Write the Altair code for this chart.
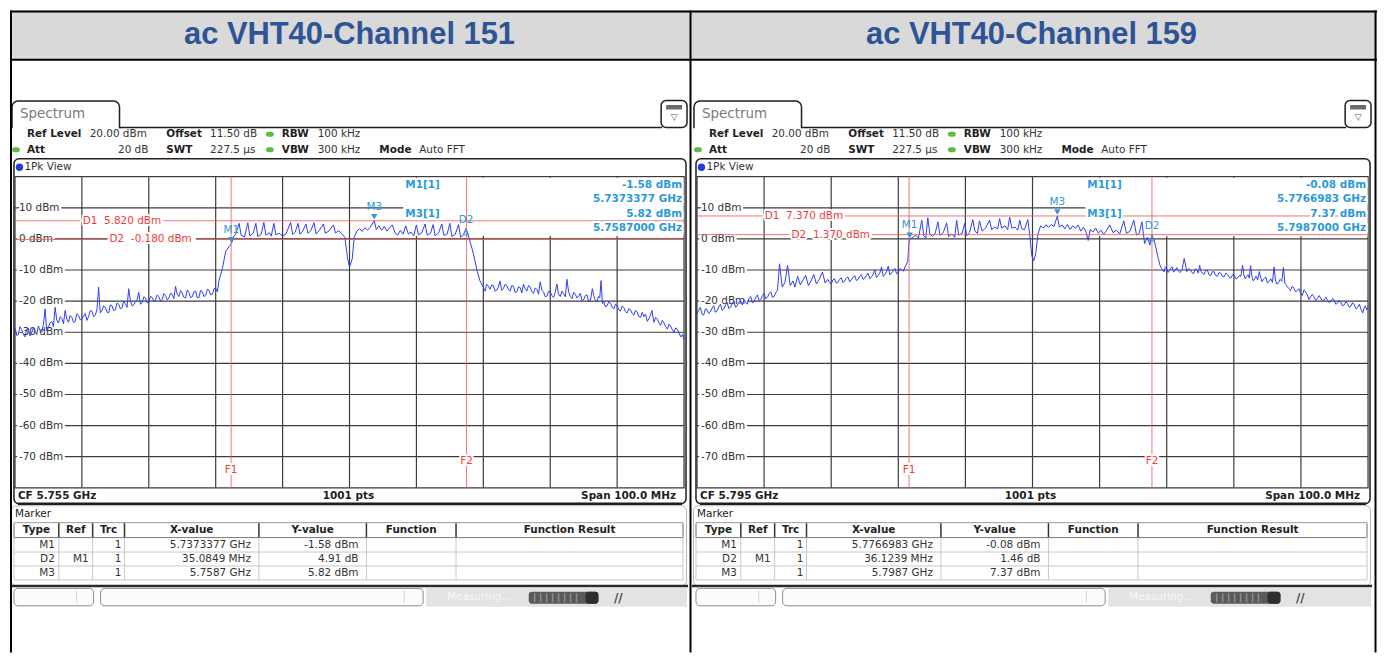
import altair as alt
import pandas as pd

# ---------------- data ----------------
titles = ["ac VHT40-Channel 151", "ac VHT40-Channel 159"]
center_ghz = [5.755, 5.795]
span_mhz = 100.0
n_div = 10
y_min, y_max = -80, 20
grid_dbm = [10, 0, -10, -20, -30, -40, -50, -60, -70]
grid_labels = ["10 dBm", "0 dBm", "-10 dBm", "-20 dBm", "-30 dBm",
               "-40 dBm", "-50 dBm", "-60 dBm", "-70 dBm"]

# trace: (offset from start frequency in MHz, level in dBm)
trace1 = [
    (0, -28.5), (0.5, -30.8), (1, -29.2), (1.5, -31.5), (2, -28.8), (2.5, -30.2), (3, -29.5),
    (3.5, -28.0), (4, -30.0), (4.5, -22.5), (5, -28.5), (5.5, -26.5), (6, -22.0), (6.5, -27.0),
    (7, -25.5), (7.5, -23.0), (8, -26.8), (8.5, -25.2), (9, -26.5), (9.5, -24.5), (10, -25.8),
    (10.5, -24.0), (11, -25.0), (11.5, -23.2), (12, -24.5), (12.5, -15.5), (13, -23.0),
    (13.5, -22.0), (14, -23.8), (14.5, -21.5), (15, -22.8), (15.5, -21.0), (16, -22.2),
    (16.5, -20.8), (17, -16.0), (17.5, -21.5), (18, -20.2), (18.5, -17.2), (19, -20.5),
    (19.5, -19.0), (20, -20.2), (20.5, -18.8), (21, -19.8), (21.5, -18.5), (22, -19.5),
    (22.5, -18.2), (23, -19.0), (23.5, -17.8), (24, -15.3), (24.5, -18.5), (25, -17.5),
    (25.5, -19.0), (26, -17.2), (26.5, -18.6), (27, -16.8), (27.5, -18.8), (28, -17.0),
    (28.5, -18.2), (29, -16.5), (29.5, -17.8), (30, -15.8), (30.5, -13.4), (31, -9.5),
    (31.5, -4.0), (32, -2.5), (32.34, -1.58),
    (32.7, 0.8), (33.0, 1.5), (33.5, 5.0), (33.8, 1.2), (34.3, 0.6), (34.8, 5.2), (35.1, 1.0),
    (35.6, 1.8), (36.0, 5.0), (36.3, 0.8), (36.8, 1.5), (37.2, 5.3), (37.5, 1.2), (38.0, 2.0),
    (38.3, 0.9), (38.7, 5.0), (39.0, 1.3), (39.5, 1.8), (40.0, 0.9), (40.5, 1.6), (41.2, 5.3),
    (41.5, 1.4), (41.9, 2.2), (42.3, 5.0), (42.6, 1.5), (43.0, 2.5), (43.5, 4.8), (43.8, 1.8),
    (44.2, 2.6), (44.7, 5.2), (45.0, 1.6), (45.5, 2.8), (46.1, 4.8), (46.4, 1.8), (46.9, 2.5),
    (47.6, 4.5), (47.9, 1.9), (48.4, 2.6), (48.9, 1.5), (49.3, 0.5), (49.7, -6.0), (50.0, -9.0),
    (50.4, -6.5), (50.7, 0.5), (51.1, 2.5), (51.5, 3.3), (51.9, 2.4), (52.3, 3.6), (52.7, 2.8),
    (53.1, 3.8), (53.7, 5.82), (54.0, 3.0), (54.4, 4.2), (54.8, 2.8), (55.2, 4.0), (55.6, 2.5),
    (56.0, 3.6), (56.4, 4.5), (56.8, 2.0), (57.2, 1.2), (57.6, 2.8), (58.0, 1.5), (58.4, 4.2),
    (58.8, 1.6), (59.2, 2.2), (59.6, 1.0), (60.0, 4.5), (60.3, 1.3), (60.8, 2.0), (61.3, 4.8),
    (61.6, 1.2), (62.1, 1.8), (62.5, 4.6), (62.8, 1.0), (63.3, 1.9), (63.8, 4.8), (64.1, 1.1),
    (64.6, 1.6), (65.0, 5.0), (65.3, 0.8), (65.8, 1.5), (66.3, 4.6), (66.6, 0.5), (67.0, 1.2),
    (67.42, 3.33),
    (67.9, 0.0), (68.3, -3.0), (68.7, -6.5), (69.1, -10.5), (69.5, -13.5), (70.0, -15.5),
    (70.5, -14.6), (71.0, -16.2), (71.5, -15.0), (72.0, -16.5), (72.5, -13.5), (73.0, -16.0),
    (73.5, -15.0), (74.0, -16.8), (74.5, -15.2), (75.0, -17.0), (75.5, -15.6), (76.0, -14.5),
    (76.5, -16.8), (77.0, -15.4), (77.5, -17.5), (78.0, -16.2), (78.5, -13.8), (79.0, -17.0),
    (79.5, -18.4), (80.0, -17.0), (80.5, -18.8), (81.0, -14.5), (81.5, -18.5), (82.0, -17.6),
    (82.5, -13.0), (83.0, -18.5), (83.5, -17.2), (84.0, -19.0), (84.5, -17.5), (85.0, -19.5),
    (85.5, -18.0), (86.0, -19.8), (86.3, -16.0), (86.7, -19.5), (87.2, -18.5), (87.6, -13.4),
    (88.0, -20.2), (88.5, -21.5), (89.0, -20.6), (89.5, -22.5), (90.0, -21.5), (90.5, -23.2),
    (91.0, -22.0), (91.5, -23.8), (92.0, -22.8), (92.5, -24.5), (93.0, -23.5), (93.5, -25.2),
    (94.0, -25.0), (94.5, -26.5), (95.0, -24.5), (95.2, -23.0), (95.5, -26.8), (96.0, -25.8),
    (96.5, -27.8), (97.0, -27.0), (97.5, -29.0), (98.0, -28.0), (98.5, -30.0), (99.0, -29.0),
    (99.5, -31.5), (100.0, -32.5),
]
# further readings of the same noisy trace (sorted together with the list above)
trace1_b = [
    (0.25, -31.0), (0.75, -28.2), (1.25, -30.6), (1.75, -29.0), (2.25, -31.2), (2.75, -28.6),
    (3.25, -30.8), (3.75, -29.4), (4.25, -27.5), (4.75, -29.6), (5.25, -27.0), (5.75, -28.2),
    (6.25, -26.2), (6.75, -25.0), (7.25, -27.2), (7.75, -25.8), (8.25, -24.6), (8.75, -26.8),
    (9.25, -24.0), (9.75, -26.0), (10.25, -24.8), (10.75, -26.2), (11.25, -23.0), (11.75, -25.0),
    (12.25, -22.8), (12.75, -23.8), (13.25, -21.5), (13.75, -23.5), (14.25, -21.2), (14.75, -23.0),
    (15.25, -20.6), (15.75, -22.5), (16.25, -20.0), (16.75, -22.0), (17.25, -19.8), (17.75, -21.2),
    (18.25, -19.5), (18.75, -21.0), (19.25, -18.6), (19.75, -20.6), (20.25, -18.5), (20.75, -20.0),
    (21.25, -18.0), (21.75, -20.0), (22.25, -17.6), (22.75, -19.6), (23.25, -17.5), (23.75, -19.2),
    (24.25, -17.8), (24.75, -16.6), (25.25, -18.8), (25.75, -16.4), (26.25, -18.9), (26.75, -17.0),
    (27.25, -19.0), (27.75, -16.5), (28.25, -18.5), (28.75, -16.2), (29.25, -18.0), (29.75, -16.0),
    (30.25, -17.0),
    (70.25, -16.8), (70.75, -15.2), (71.25, -14.8), (71.75, -16.8), (72.25, -15.5), (72.75, -16.5),
    (73.25, -14.6), (73.75, -16.2), (74.25, -15.0), (74.75, -17.2), (75.25, -15.4), (75.75, -17.4),
    (76.25, -16.0), (76.75, -15.0), (77.25, -17.0), (77.75, -15.8), (78.25, -17.8), (78.75, -16.5),
    (79.25, -18.6), (79.75, -16.8), (80.25, -18.2), (80.75, -17.2), (81.25, -17.8), (81.75, -16.8),
    (82.25, -18.6), (82.75, -17.0), (83.25, -19.2), (83.75, -17.8), (84.25, -18.4), (84.75, -19.8),
    (85.25, -18.2), (85.75, -20.2), (86.5, -18.2), (87.0, -20.2), (87.4, -19.0), (87.8, -20.8),
    (88.25, -21.8), (88.75, -20.2), (89.25, -22.0), (89.75, -21.0), (90.25, -22.8), (90.75, -21.6),
    (91.25, -23.4), (91.75, -22.4), (92.25, -24.0), (92.75, -23.0), (93.25, -25.0), (93.75, -23.6),
    (94.25, -24.2), (94.75, -25.6), (95.75, -25.2), (96.25, -27.0), (96.75, -26.2), (97.25, -28.2),
    (97.75, -27.4), (98.25, -29.2), (98.75, -28.6), (99.25, -30.2), (99.75, -30.8),
]

trace2 = [
    (0, -24.0), (0.5, -22.0), (1, -24.5), (1.5, -22.8), (2, -23.5), (2.5, -21.5), (3, -23.2),
    (3.5, -21.0), (4, -22.5), (4.5, -20.5), (5, -22.0), (5.5, -20.0), (6, -21.5), (6.5, -19.8),
    (7, -19.5), (7.5, -21.0), (8, -18.5), (8.5, -20.2), (9, -18.0), (9.5, -19.5), (10, -17.5),
    (10.5, -18.8), (11, -17.0), (11.5, -18.5), (12, -16.5),
    (12.3, -8.0), (12.7, -15.5), (13.1, -14.0), (13.5, -8.5), (13.9, -15.0), (14.3, -13.5),
    (14.6, -15.5), (15.0, -12.0), (15.4, -14.8), (15.8, -13.2), (16.2, -11.7), (16.6, -15.0),
    (17.0, -13.5), (17.4, -11.4), (17.8, -14.5), (18.2, -13.0), (18.7, -10.7), (19.1, -14.2),
    (19.5, -13.0), (20.0, -14.5), (20.5, -12.8), (21.0, -14.0), (21.5, -12.5), (22.0, -13.6),
    (22.5, -12.2), (23.0, -13.2), (23.5, -11.8), (24.0, -13.0), (24.5, -11.5), (25.0, -12.6),
    (25.5, -11.0), (26.0, -12.2), (26.5, -10.0), (27.0, -11.8), (27.5, -9.0), (28.0, -11.5),
    (28.5, -8.8), (29.0, -11.0), (29.5, -9.5), (30.0, -10.8), (30.5, -9.8), (31.0, -9.0),
    (31.4, -7.3), (31.6, -1.0), (31.7, -0.08),
    (32.2, 0.5), (32.6, 1.2), (33.0, 0.3), (33.5, 6.0), (33.8, 1.0), (34.1, 0.2), (34.4, 6.8),
    (34.7, 1.5), (35.1, 0.8), (35.5, 1.8), (35.9, 5.5), (36.2, 1.2), (36.7, 2.0), (37.2, 5.2),
    (37.5, 0.8), (38.0, 1.6), (38.4, 0.5), (38.7, 6.0), (39.0, 1.2), (39.5, 1.8), (39.9, 5.0),
    (40.2, 1.0), (40.6, 2.0), (41.1, 6.2), (41.4, 2.5), (41.8, 1.8), (42.1, 5.8), (42.5, 2.5),
    (43.0, 3.5), (43.6, 6.0), (43.9, 3.0), (44.4, 3.8), (44.8, 3.2), (45.1, 6.5), (45.4, 3.5),
    (45.9, 4.2), (46.3, 3.0), (46.6, 7.0), (46.9, 3.5), (47.4, 3.8), (47.8, 2.8), (48.1, 6.0),
    (48.4, 3.2), (48.8, 3.0), (49.3, 6.2), (49.6, 1.0), (49.9, -5.5), (50.2, -7.0), (50.5, -4.5),
    (50.8, 1.5), (51.2, 4.2), (51.6, 3.5), (52.0, 4.5), (52.4, 3.8), (52.8, 4.6), (53.2, 4.0),
    (53.7, 7.37), (54.0, 3.8), (54.4, 4.5), (54.8, 3.2), (55.2, 4.6), (55.6, 3.0), (56.0, 4.2),
    (56.4, 3.4), (56.8, 4.5), (57.2, 2.5), (57.6, 3.8), (58.0, 2.0), (58.3, -0.5), (58.6, 3.0),
    (59.0, 2.2), (59.4, 3.5), (59.8, 1.8), (60.2, 2.8), (60.6, 1.5), (61.0, 2.5), (61.5, 4.5),
    (62.0, 2.0), (62.5, 2.8), (63.0, 1.6), (63.6, 5.8), (64.0, 1.8), (64.5, 2.4), (65.1, 6.0),
    (65.5, 1.2), (65.9, 1.8), (66.3, 5.5), (66.7, -1.5), (67.1, 0.5), (67.5, -2.0), (67.8, 1.38),
    (68.2, -1.0), (68.6, -5.0), (69.0, -8.5), (69.4, -10.0), (69.8, -9.0), (70.2, -10.8),
    (70.6, -9.4), (71.0, -10.6), (71.5, -9.2), (72.0, -10.8), (72.6, -6.3), (73.0, -10.5),
    (73.5, -9.8), (74.0, -11.2), (74.5, -10.0), (74.9, -8.5), (75.3, -11.0), (75.8, -10.2),
    (76.3, -11.5), (76.8, -10.5), (77.3, -11.8), (77.8, -10.8), (78.3, -12.0), (78.8, -11.0),
    (79.3, -12.3), (79.8, -11.5), (80.3, -12.8), (80.8, -11.8), (81.3, -8.5), (81.7, -12.8),
    (82.1, -11.5), (82.5, -8.6), (82.9, -13.5), (83.3, -12.0), (83.8, -10.5), (84.2, -13.8),
    (84.6, -12.5), (85.0, -14.2), (85.5, -12.8), (86.0, -9.0), (86.4, -14.5), (86.9, -13.0),
    (87.4, -9.2), (87.8, -14.8), (88.2, -16.0), (88.7, -15.2), (89.2, -17.0), (89.7, -16.0),
    (90.2, -18.2), (90.7, -17.0), (91.2, -19.5), (91.7, -17.8), (92.2, -19.8), (92.7, -18.2),
    (93.2, -20.0), (93.7, -18.8), (94.2, -20.5), (94.7, -19.2), (95.2, -21.0), (95.7, -19.8),
    (96.2, -21.5), (96.7, -20.2), (97.2, -22.0), (97.7, -20.5), (98.2, -22.5), (98.7, -21.0),
    (99.2, -23.8), (99.6, -21.5), (100.0, -22.0),
]
trace2_b = [
    (0.25, -23.0), (0.75, -24.2), (1.25, -22.5), (1.75, -24.0), (2.25, -22.2), (2.75, -23.6),
    (3.25, -21.8), (3.75, -23.0), (4.25, -21.2), (4.75, -22.4), (5.25, -20.8), (5.75, -22.0),
    (6.25, -20.2), (6.75, -21.2), (7.25, -20.4), (7.75, -19.2), (8.25, -20.5), (8.75, -18.8),
    (9.25, -19.8), (9.75, -18.2), (10.25, -19.2), (10.75, -17.6), (11.25, -18.8), (11.75, -17.2),
    (19.75, -14.0), (20.25, -13.2), (20.75, -14.2), (21.25, -13.0), (21.75, -14.0), (22.25, -12.6),
    (22.75, -13.8), (23.25, -12.4), (23.75, -13.4), (24.25, -12.0), (24.75, -13.0), (25.25, -11.8),
    (25.75, -12.8), (26.25, -11.4), (26.75, -12.4), (27.25, -11.0), (27.75, -12.0), (28.25, -10.6),
    (28.75, -11.6), (29.25, -10.2), (29.75, -11.2), (30.25, -9.6), (30.75, -10.4),
    (69.2, -9.4), (69.6, -10.6), (70.0, -9.6), (70.4, -10.2), (70.8, -9.0), (71.25, -10.2),
    (71.75, -10.4), (72.3, -9.8), (73.25, -9.6), (73.75, -10.8), (74.25, -9.6), (74.7, -11.0),
    (75.1, -10.4), (75.55, -11.4), (76.05, -10.0), (76.55, -11.8), (77.05, -10.6), (77.55, -12.0),
    (78.05, -11.0), (78.55, -12.2), (79.05, -11.4), (79.55, -12.6), (80.05, -11.6), (80.55, -12.6),
    (81.05, -12.0), (81.5, -11.6), (81.9, -12.0), (82.3, -12.6), (82.7, -12.0), (83.1, -12.8),
    (83.55, -13.2), (84.0, -12.4), (84.4, -13.0), (84.8, -12.4), (85.25, -13.6), (85.75, -14.0),
    (86.2, -13.2), (86.65, -14.2), (87.15, -13.6), (87.6, -14.2), (88.0, -15.4), (88.45, -16.6),
    (88.95, -15.8), (89.45, -16.6), (89.95, -17.4), (90.45, -16.4), (90.95, -18.0), (91.45, -18.6),
    (91.95, -18.6), (92.45, -19.2), (92.95, -19.0), (93.45, -19.6), (93.95, -19.6), (94.45, -20.0),
    (94.95, -19.6), (95.45, -20.6), (95.95, -20.4), (96.45, -21.2), (96.95, -20.8), (97.45, -21.6),
    (97.95, -21.2), (98.45, -22.0), (98.95, -22.6), (99.4, -22.4), (99.8, -22.8),
]
traces = [trace1 + trace1_b, trace2 + trace2_b]

ref_level = "20.00 dBm"
offset_db = "11.50 dB"
rbw = "100 kHz"
att = "20 dB"
swt = "227.5 µs"
vbw = "300 kHz"
mode = "Auto FFT"
pts_txt = "1001 pts"
span_txt = "Span 100.0 MHz"
cf_txt = ["CF 5.755 GHz", "CF 5.795 GHz"]

m1_ghz = [5.7373377, 5.7766983]
m1_dbm = [-1.58, -0.08]
m3_ghz = [5.7587, 5.7987]
m3_dbm = [5.82, 7.37]
d2_ghz = [5.7724226, 5.8128222]
d2_dbm = [3.33, 1.38]
d1_line = [5.820, 7.370]
d2_line = [-0.180, 1.370]
d1_txt = ["D1\u00a0\u00a05.820 dBm", "D1\u00a0\u00a07.370 dBm"]
d2_txt = ["D2\u00a0\u00a0-0.180 dBm", "D2\u00a0\u00a01.370 dBm"]
f_ghz = [[5.7373, 5.7725], [5.7766, 5.8128]]
f_labels = ["F1", "F2"]

info_m1_val = ["-1.58 dBm", "-0.08 dBm"]
info_m1_frq = ["5.7373377 GHz", "5.7766983 GHz"]
info_m3_val = ["5.82 dBm", "7.37 dBm"]
info_m3_frq = ["5.7587000 GHz", "5.7987000 GHz"]

tbl_cols = ["Type", "Ref", "Trc", "X-value", "Y-value", "Function", "Function Result"]
tbl_type = ["M1", "D2", "M3"]
tbl_ref = ["", "M1", ""]
tbl_trc = ["1", "1", "1"]
tbl_x = [["5.7373377 GHz", "35.0849 MHz", "5.7587 GHz"],
         ["5.7766983 GHz", "36.1239 MHz", "5.7987 GHz"]]
tbl_y = [["-1.58 dBm", "4.91 dB", "5.82 dBm"],
         ["-0.08 dBm", "1.46 dB", "7.37 dBm"]]

# ---------------- layout / style ----------------
W = [685, 688]
H = 645
PX0 = 5
PX1 = [677, 679]
PY_TOP = 167
PY_BOT = 479.5
FONT = "DejaVu Sans"
TFONT = "Liberation Sans"
INK = "#1e1e1e"
GRID = "#3c3c3c"
TRACE = "#2f3df0"
RED_LINE = "#ee5c5c"
RED_TXT = "#f03a3a"
MBLUE = "#2a9ad8"
GREEN = "#5dbb46"

ONE = pd.DataFrame({"k": [0]})


def base():
    return alt.Chart(ONE)


def txt(s, x, y, size=10.5, bold=False, color=INK, align="left", halo=0, font=FONT):
    props = dict(text=s, align=align, baseline="middle", fontSize=size,
                 fontWeight="bold" if bold else "normal", font=font)
    enc = dict(x=alt.value(x), y=alt.value(y))
    out = []
    if halo:
        out.append(base().mark_text(color="white", stroke="white", strokeWidth=halo,
                                    strokeJoin="round", **props).encode(**enc))
    out.append(base().mark_text(color=color, **props).encode(**enc))
    return out


def rect(x, y, x2, y2, fill="transparent", stroke=None, sw=1.0, r=0):
    kw = dict(fill=fill)
    if stroke:
        kw.update(stroke=stroke, strokeWidth=sw)
    if r:
        kw["cornerRadius"] = r
    return [base().mark_rect(**kw).encode(x=alt.value(x), x2=alt.value(x2),
                                          y=alt.value(y), y2=alt.value(y2))]


def hrule(x, x2, y, color=INK, sw=1.0):
    return [base().mark_rule(color=color, strokeWidth=sw).encode(
        x=alt.value(x), x2=alt.value(x2), y=alt.value(y))]


def vrule(x, y, y2, color=INK, sw=1.0):
    return [base().mark_rule(color=color, strokeWidth=sw).encode(
        x=alt.value(x), y=alt.value(y), y2=alt.value(y2))]


def panel(i):
    w = W[i]
    px1 = PX1[i]
    dx = px1 - PX1[0]
    start = center_ghz[i] - span_mhz / 2000.0
    stop = center_ghz[i] + span_mhz / 2000.0
    xs = alt.Scale(domain=[start, stop], range=[PX0, px1], zero=False, nice=False)
    ys = alt.Scale(domain=[y_min, y_max], range=[PY_BOT, PY_TOP], zero=False, nice=False)
    fx = alt.X("f:Q", scale=xs, axis=None)
    fy = alt.Y("db:Q", scale=ys, axis=None)
    L = []

    # header row of the table
    L += rect(0, 0, w, 49, fill="#d9d9d9")
    L += txt(titles[i], 341, 25, size=31, bold=True, color="#2f5496", align="center", font=TFONT)

    # spectrum tab + top bar
    L += rect(2, 91, 110, 130, fill="white", stroke=INK, sw=1.5, r=6)
    L += rect(0, 118.3, 113, 133, fill="white")
    L += hrule(109.5, 655 + dx, 117.5, INK, 1.5)
    L += txt("Spectrum", 10, 104, size=13.5, color="#7a7a7a")
    L += rect(654 + dx, 90.5, 680 + dx, 117.5, fill="white", stroke=INK, sw=1.5, r=5)
    L += rect(659 + dx, 95, 675 + dx, 99.5, fill="#6a6a6a")
    L += txt("▽", 667 + dx, 107.5, size=9, color="#555", align="center")

    # settings rows
    r1, r2 = 124.5, 140
    L += txt("Ref Level", 17, r1, bold=True)
    L += txt(ref_level, 80, r1, color="#333")
    L += txt("Offset", 157, r1, bold=True)
    L += txt(offset_db, 201, r1, color="#333")
    L += rect(257, r1 - 2.5, 265, r1 + 2.5, fill=GREEN, r=2.5)
    L += txt("RBW", 273, r1, bold=True)
    L += txt(rbw, 309, r1, color="#333")
    L += rect(2, r2 - 2.5, 10, r2 + 2.5, fill=GREEN, r=2.5)
    L += txt("Att", 17, r2, bold=True)
    L += txt(att, 139, r2, align="right", color="#333")
    L += txt("SWT", 157, r2, bold=True)
    L += txt(swt, 201, r2, color="#333")
    L += rect(257, r2 - 2.5, 265, r2 + 2.5, fill=GREEN, r=2.5)
    L += txt("VBW", 273, r2, bold=True)
    L += txt(vbw, 309, r2, color="#333")
    L += txt("Mode", 371, r2, bold=True)
    L += txt(mode, 411, r2, color="#333")

    # 1Pk View frame
    L += rect(4, 149, px1 + 2, 495.5, stroke=INK, sw=1.5, r=5)
    L += hrule(8, px1 - 2, 495.5, INK, 2.5)
    L.append(base().mark_circle(size=55, color="#1f3fd8", opacity=1).encode(
        x=alt.value(9.5), y=alt.value(157.5)))
    L += txt("1Pk View", 14.5, 157.5, color="#333")

    # grid
    vg = pd.DataFrame({"f": [start + (stop - start) * k / n_div for k in range(1, n_div)]})
    L.append(alt.Chart(vg).mark_rule(color=GRID, strokeWidth=1.2).encode(
        x=fx, y=alt.value(PY_TOP), y2=alt.value(PY_BOT)))
    hg = pd.DataFrame({"db": grid_dbm, "lab": grid_labels})
    L.append(alt.Chart(hg).mark_rule(color=GRID, strokeWidth=1.2).encode(
        y=fy, x=alt.value(PX0), x2=alt.value(px1)))
    L += rect(PX0, PY_TOP, px1, PY_BOT, stroke=GRID, sw=1.3)
    lp = dict(align="left", baseline="middle", fontSize=10.5, font=FONT)
    L.append(alt.Chart(hg).mark_text(color="white", stroke="white", strokeWidth=5,
                                     strokeJoin="round", **lp).encode(
        y=fy, x=alt.value(PX0 + 4), text="lab:N"))
    L.append(alt.Chart(hg).mark_text(color="#333", **lp).encode(
        y=fy, x=alt.value(PX0 + 4), text="lab:N"))

    # marker info box background
    L += rect(395, PY_TOP + 1, px1 - 0.5, 226.5, fill="white")

    # trace
    tr = pd.DataFrame(traces[i], columns=["off", "db"]).sort_values("off")
    tr["f"] = start + tr["off"] / 1000.0
    L.append(alt.Chart(tr).mark_line(color=TRACE, strokeWidth=1, clip=True).encode(
        x=fx, y=fy, order="off:Q"))

    # display lines
    dl = pd.DataFrame({"db": [d1_line[i], d2_line[i]]})
    L.append(alt.Chart(dl).mark_rule(color=RED_LINE, strokeWidth=1, opacity=0.85).encode(
        y=fy, x=alt.value(PX0), x2=alt.value(px1)))
    fl = pd.DataFrame({"f": f_ghz[i], "lab": f_labels})
    L.append(alt.Chart(fl).mark_rule(color=RED_LINE, strokeWidth=1, opacity=0.85).encode(
        x=fx, y=alt.value(PY_TOP), y2=alt.value(PY_BOT)))
    rp = dict(align="left", baseline="middle", fontSize=10.5, font=FONT)
    for lab, lvl, xpos in ((d1_txt[i], d1_line[i], 73), (d2_txt[i], d2_line[i], 100)):
        dd = pd.DataFrame({"db": [lvl], "lab": [lab]})
        L.append(alt.Chart(dd).mark_rule(color="white", strokeWidth=3).encode(
            y=fy, x=alt.value(xpos - 2), x2=alt.value(xpos + 6.05 * len(lab) + 2)))
        L.append(alt.Chart(dd).mark_text(color="white", stroke="white", strokeWidth=4,
                                         strokeJoin="round", **rp).encode(
            y=fy, x=alt.value(xpos), text="lab:N"))
        L.append(alt.Chart(dd).mark_text(color=RED_TXT, **rp).encode(
            y=fy, x=alt.value(xpos), text="lab:N"))
    for k, ypos in ((0, 462), (1, 453)):
        ff = pd.DataFrame({"f": [f_ghz[i][k]], "lab": [f_labels[k]]})
        fp = dict(align="center", baseline="middle", fontSize=10.5, font=FONT)
        L.append(alt.Chart(ff).mark_text(color="white", stroke="white", strokeWidth=4,
                                         strokeJoin="round", **fp).encode(
            x=fx, y=alt.value(ypos), text="lab:N"))
        L.append(alt.Chart(ff).mark_text(color=RED_TXT, **fp).encode(
            x=fx, y=alt.value(ypos), text="lab:N"))

    # markers
    mk = pd.DataFrame({"f": [m1_ghz[i], m3_ghz[i]], "db": [m1_dbm[i], m3_dbm[i]],
                       "lab": ["M1", "M3"]})
    L.append(alt.Chart(mk).mark_text(color=MBLUE, fontSize=10.5, font=FONT, dy=-14,
                                     align="center", baseline="middle").encode(
        x=fx, y=fy, text="lab:N"))
    L.append(alt.Chart(mk).mark_point(shape="triangle-down", filled=True, size=40,
                                      color=MBLUE, yOffset=-4, opacity=1).encode(x=fx, y=fy))
    dk = pd.DataFrame({"f": [d2_ghz[i]], "db": [d2_dbm[i]], "lab": ["D2"]})
    L.append(alt.Chart(dk).mark_text(color=MBLUE, fontSize=10.5, font=FONT, dy=-9,
                                     align="center", baseline="middle").encode(
        x=fx, y=fy, text="lab:N"))
    L.append(alt.Chart(dk).mark_point(shape="triangle-up", filled=False, size=30,
                                      color=MBLUE, yOffset=4, strokeWidth=1,
                                      opacity=1).encode(x=fx, y=fy))

    # marker info texts
    L += txt("M1[1]", 397, 175, bold=True, color=MBLUE, halo=4)
    L += txt(info_m1_val[i], px1 - 2, 175, bold=True, color=MBLUE, align="right", halo=4)
    L += txt(info_m1_frq[i], px1 - 2, 189.5, bold=True, color=MBLUE, align="right", halo=4)
    L += txt("M3[1]", 397, 204, bold=True, color=MBLUE, halo=4)
    L += txt(info_m3_val[i], px1 - 2, 204, bold=True, color=MBLUE, align="right", halo=4)
    L += txt(info_m3_frq[i], px1 - 2, 219, bold=True, color=MBLUE, align="right", halo=4)

    # bottom info row
    L += txt(cf_txt[i], 8, 487.5, bold=True)
    L += txt(pts_txt, 340, 487.5, bold=True, align="center")
    L += txt(span_txt, px1 - 8, 487.5, bold=True, align="right")

    # marker table
    L += rect(1.5, 497.5, px1 + 2.5, 578, stroke="#b4b4b4", sw=1, r=5)
    L += hrule(0, px1 + 4, 578, "#2a2a2a", 2.5)
    L += txt("Marker", 5, 506, color="#222")
    edges = [4, 49, 83, 115, 250, 358, 448, px1 - 1]
    L += hrule(edges[0], edges[-1], 514.5, "#9a9a9a", 1)
    L += hrule(edges[0], edges[-1], 529.5, "#7a7a7a", 1)
    for yy in (544, 558, 572):
        L += hrule(edges[0], edges[-1], yy, "#c8c8c8", 1)
    for k, e in enumerate(edges):
        L += vrule(e, 515, 529.5, "#333" if 0 < k < len(edges) - 1 else "#9a9a9a", 1.5)
        L += vrule(e, 529.5, 572, "#c8c8c8", 1)
    for k, c in enumerate(tbl_cols):
        L += txt(c, (edges[k] + edges[k + 1]) / 2, 522, bold=True, align="center", color="#222")
    for r in range(3):
        yy = 536.5 + 14.5 * r
        L += txt(tbl_type[r], edges[1] - 4, yy, align="right", color="#333")
        if tbl_ref[r]:
            L += txt(tbl_ref[r], edges[2] - 4, yy, align="right", color="#333")
        L += txt(tbl_trc[r], edges[3] - 3, yy, align="right", color="#333")
        L += txt(tbl_x[i][r], edges[4] - 8, yy, align="right", color="#333")
        L += txt(tbl_y[i][r], edges[5] - 8, yy, align="right", color="#333")

    # status bar
    L += rect(418, 580, px1 + 3, 599, fill="#e3e3e3")
    L += rect(4, 580.5, 84, 598, fill="#fbfbfb", stroke="#8a8a8a", sw=1, r=4)
    L += vrule(67, 583, 595, "#d4d4d4", 1)
    L += rect(91, 580.5, 415, 598, fill="#fbfbfb", stroke="#8a8a8a", sw=1, r=4)
    L += vrule(396, 583, 595, "#d4d4d4", 1)
    L += txt("Measuring...", 439, 589.5, color="#f7f7f7")
    L += rect(521, 584, 591, 596, fill="#5a5a5a", r=3)
    for k in range(8):
        L += vrule(527 + 6 * k, 585.5, 594.5, "#8c8c8c", 1.5)
    L += rect(578, 584, 591, 596, fill="#2e2e2e", r=3)
    L += txt("//", 611, 590, size=12, bold=True, color="#4a4a4a", align="center")

    # table borders (drawn last)
    L += hrule(0, w, 1, "#000", 2)
    L += hrule(0, w, 49.5, "#000", 2)
    if i == 0:
        L += vrule(1, 0, H, "#000", 2)
        L += vrule(683.5, 0, H, "#000", 2)
    else:
        L += vrule(686.5, 0, H, "#000", 2)

    return alt.layer(*L).properties(width=w, height=H)


chart = alt.hconcat(panel(0), panel(1), spacing=0, bounds="flush").properties(
    padding={"left": 0, "top": 0, "right": 0, "bottom": 0}, background="white"
).configure_view(strokeWidth=0)

chart.save("out.html", embed_options={"renderer": "svg", "actions": False})
